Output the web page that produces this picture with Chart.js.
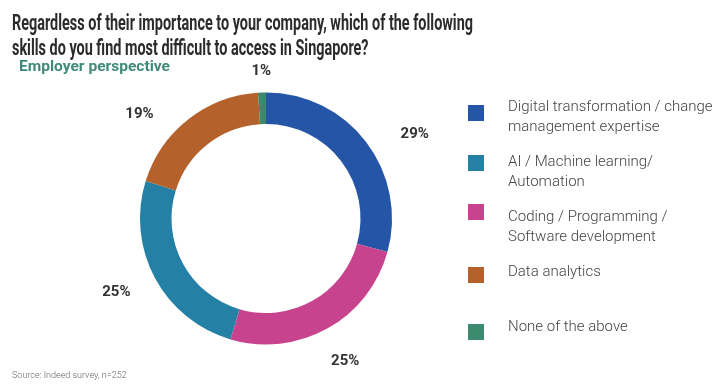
<!DOCTYPE html>
<html>
<head>
<meta charset="utf-8">
<script src="https://cdn.jsdelivr.net/npm/chart.js@4"></script>
<style>
  html, body { margin: 0; padding: 0; background: #fff; }
  #wrap { position: relative; width: 718px; height: 391px; overflow: hidden; font-family: Roboto, "Noto Sans", sans-serif; }
  #chart { position: absolute; left: 0; top: 0; }
  .title { position: absolute; left: 12px; font-weight: 700; font-size: 22px; color: #2b2b2b; white-space: nowrap; transform-origin: 0 0; line-height: 1; }
  #sub { position: absolute; left: 19px; top: 59px; font-weight: 700; font-size: 15px; color: #3f8a78; white-space: nowrap; transform-origin: 0 0; line-height: 1; }
  #legend { position: absolute; left: 0; top: 0; }
  .li { position: absolute; left: 468px; }
  .sw { position: absolute; left: 0; width: 16px; height: 16px; }
  .lt { position: absolute; left: 40px; top: 0; font-size: 15px; font-weight: 300; color: #444; line-height: 20px; white-space: pre; }
  #src { position: absolute; left: 12px; top: 370px; font-size: 9px; color: #666; font-weight: 300; white-space: nowrap; }
</style>
</head>
<body>
<div id="wrap">
  <canvas id="chart" width="718" height="391"></canvas>
  <div class="title" id="t1"></div>
  <div class="title" id="t2"></div>
  <div id="sub"></div>
  <div id="legend"></div>
  <div id="src"></div>
</div>
<script>
// ---- data ----
const titleLines = ['Regardless of their importance to your company, which of the following', 'skills do you find most difficult to access in Singapore?'];
const subtitle = 'Employer perspective';
const source = 'Source: Indeed survey, n=252';
const categories = [
  'Digital transformation / change\nmanagement expertise',
  'AI / Machine learning/\nAutomation',
  'Coding / Programming /\nSoftware development',
  'Data analytics',
  'None of the above'
];
const values = [29, 25, 25, 19, 1];
const colors = ['#2455a7', '#2481a5', '#c8438d', '#b5612b', '#3b8a6d'];
// clockwise order of the slices in the ring, starting at 12 o'clock
const ringOrder = [0, 2, 1, 3, 4];

// ---- text ----
const t1 = document.getElementById('t1'), t2 = document.getElementById('t2');
t1.textContent = titleLines[0]; t2.textContent = titleLines[1];
t1.style.top = '12px'; t2.style.top = '37px';
document.getElementById('sub').textContent = subtitle;
document.getElementById('src').textContent = source;

function fitX(el, target) {
  const w = el.getBoundingClientRect().width;
  return target / w;
}

// ---- legend ----
const legend = document.getElementById('legend');
categories.forEach((c, i) => {
  const item = document.createElement('div');
  item.className = 'li';
  item.style.top = (96 + i * 55) + 'px';
  const sw = document.createElement('div');
  sw.className = 'sw';
  sw.style.background = colors[i];
  sw.style.top = [9, 4, -2, 6, 8][i] + 'px';
  const lt = document.createElement('div');
  lt.className = 'lt';
  lt.textContent = c;
  item.appendChild(sw); item.appendChild(lt);
  legend.appendChild(item);
});

// ---- label plugin ----
const labelPlugin = {
  id: 'outLabels',
  afterDatasetsDraw(chart, args, opts) {
    const ctx = chart.ctx;
    const meta = chart.getDatasetMeta(0);
    const ds = chart.data.datasets[0];
    ctx.save();
    ctx.font = '700 15px Roboto, sans-serif';
    ctx.fillStyle = '#333';
    ctx.textAlign = 'center';
    ctx.textBaseline = 'middle';
    meta.data.forEach((arc, i) => {
      const p = arc.getProps(['x', 'y', 'startAngle', 'endAngle', 'outerRadius'], true);
      const mid = (p.startAngle + p.endAngle) / 2 + (opts.nudge[i] || 0) * Math.PI / 180;
      const r = opts.radius[i];
      ctx.fillText(ds.data[i] + '%', p.x + Math.cos(mid) * r, p.y + Math.sin(mid) * r);
    });
    ctx.restore();
  }
};

const ringData = ringOrder.map(i => values[i]);
const ringColors = ringOrder.map(i => colors[i]);
const ringLabels = ringOrder.map(i => categories[i]);

new Chart(document.getElementById('chart'), {
  type: 'doughnut',
  data: {
    labels: ringLabels,
    datasets: [{ data: ringData, backgroundColor: ringColors, borderWidth: 0 }]
  },
  options: {
    responsive: false,
    animation: false,
    cutout: '75%',
    layout: { padding: { left: 140, right: 326, top: 92, bottom: 46 } },
    plugins: {
      legend: { display: false },
      tooltip: { enabled: false },
      outLabels: { nudge: [7.7, 0, 1.8, -12.3, 0], radius: [171, 163, 167, 164, 147] }
    }
  },
  plugins: [labelPlugin]
});

document.fonts.ready.then(() => {
  const s = fitX(t1, 461);
  t1.style.transform = 'scaleX(' + s + ')';
  t2.style.transform = 'scaleX(' + s + ')';
  const sub = document.getElementById('sub');
  sub.style.transform = 'scaleX(' + fitX(sub, 151) + ')';
});
</script>
</body>
</html>
